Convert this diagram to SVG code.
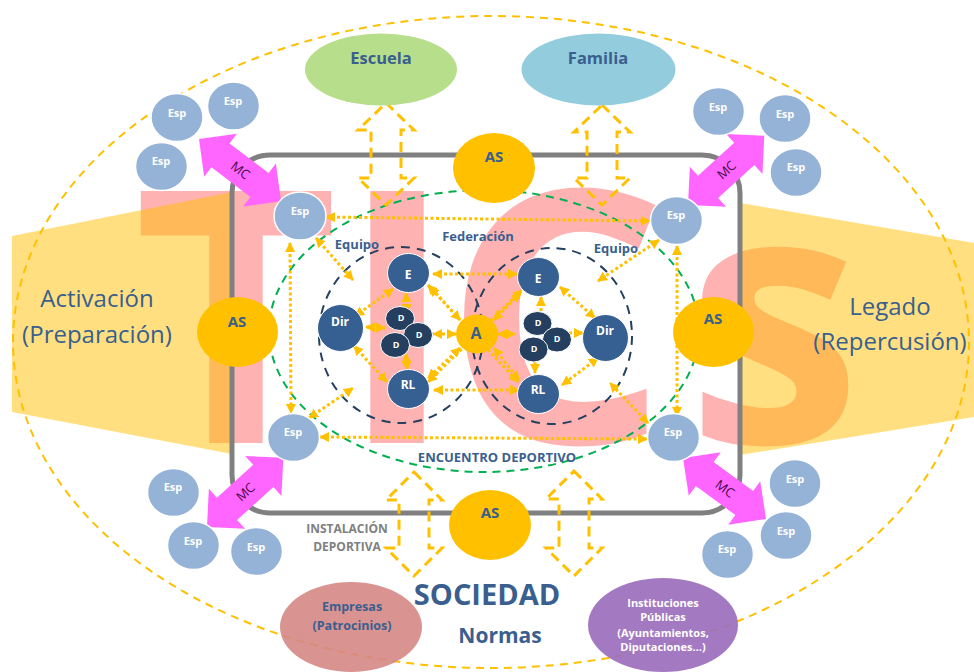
<svg xmlns="http://www.w3.org/2000/svg" width="974" height="672" viewBox="0 0 974 672">
<defs>
<style>
text{font-family:"Open Sans","Noto Sans","Liberation Sans",sans-serif;text-anchor:middle}
.big{font-size:353px;font-weight:bold;fill:#FF0000;fill-opacity:0.3}
.trap{fill:#FFC000;fill-opacity:0.5}
.esp{fill:#95B3D7;stroke:#FFFFFF;stroke-width:1.5}
.espt{fill:#FFFFFF;font-size:11px;font-weight:bold}
.as{fill:#FFC000}
.ast{fill:#3A5F8F;font-size:15px;font-weight:bold}
.tm{fill:#376092;stroke:#FFFFFF;stroke-width:1}
.tmt{fill:#FFFFFF;font-size:12px;font-weight:bold}
.d{fill:#243F60;stroke:#FFFFFF;stroke-width:1}
.dt{fill:#FFFFFF;font-size:9px;font-weight:bold}
.lbl{fill:#3A5F8F;font-weight:bold}
.c{stroke:#FFC000;stroke-width:3;stroke-dasharray:3 2.5;fill:none;marker-start:url(#ah);marker-end:url(#ah)}
.c1{stroke:#FFC000;stroke-width:3;stroke-dasharray:3 2.5;fill:none;marker-end:url(#ah)}
.blk{fill:none;stroke:#FFC000;stroke-width:3;stroke-dasharray:10 6}
.mc{fill:#FF66FF}
.mct{fill:#4B0A4B;font-size:13px}
</style>
<marker id="ah" viewBox="0 0 10 10" refX="9" refY="5" markerWidth="10" markerHeight="10" markerUnits="userSpaceOnUse" orient="auto-start-reverse"><path d="M0,0L10,5L0,10z" fill="#FFC000"/></marker>
<polygon id="mca" points="0,0 27,-27 27,-15 76,-15 76,-27 103,0 76,27 76,15 27,15 27,27"/>
</defs>
<rect width="974" height="672" fill="#FFFFFF"/>

<g id="tics">
<text class="big" x="236" y="443">T</text>
<text class="big" x="397" y="443">I</text>
<text class="big" x="556" y="443">C</text>
<text class="big" x="774" y="443">s</text>
</g>

<g id="phases">
<polygon class="trap" points="12,236 232,192 232,454 12,412"/>
<polygon class="trap" points="740,203 974,243 974,417 740,455"/>
<text x="97" y="307" fill="#3A5F8F" font-size="24">Activación</text>
<text x="97" y="343" fill="#3A5F8F" font-size="24">(Preparación)</text>
<text x="890" y="315" fill="#3A5F8F" font-size="24">Legado</text>
<text x="890" y="350" fill="#3A5F8F" font-size="24">(Repercusión)</text>
</g>

<g id="sociedad-boundary">
<ellipse cx="491" cy="342" rx="478" ry="326" fill="none" stroke="#FFC000" stroke-width="2" stroke-dasharray="8 6"/>
</g>

<g id="instalacion">
<rect x="232" y="155" width="508" height="358" rx="38" fill="none" stroke="#808080" stroke-width="5"/>
<text x="347" y="533" fill="#808080" font-size="12" font-weight="bold">INSTALACIÓN</text>
<text x="347" y="551" fill="#808080" font-size="12" font-weight="bold">DEPORTIVA</text>
</g>

<g id="encuentro">
<ellipse cx="484" cy="331" rx="215" ry="141" fill="none" stroke="#00B050" stroke-width="2" stroke-dasharray="8 6"/>
<text class="lbl" x="497" y="462" font-size="13">ENCUENTRO DEPORTIVO</text>
<text class="lbl" x="478" y="241" font-size="13">Federación</text>
</g>

<g id="equipo-left">
<ellipse cx="401" cy="335" rx="82" ry="88" fill="none" stroke="#243F60" stroke-width="2" stroke-dasharray="9 7"/>
<text class="lbl" x="357" y="249" font-size="13">Equipo</text>
</g>
<g id="equipo-right">
<ellipse cx="552" cy="336" rx="80" ry="88" fill="none" stroke="#243F60" stroke-width="2" stroke-dasharray="9 7"/>
<text class="lbl" x="616" y="253" font-size="13">Equipo</text>
</g>

<g id="block-arrows">
<polygon class="blk" points="386,103 414,130 401,130 401,178 414,178 386,205 358,178 371,178 371,130 358,130"/>
<polygon class="blk" points="602,105 630,132 617,132 617,178 630,178 602,205 574,178 587,178 587,132 574,132"/>
<polygon class="blk" points="414,472 442,500 429,500 429,548 442,548 414,576 386,548 399,548 399,500 386,500"/>
<polygon class="blk" points="574,471 602,499 589,499 589,548 602,548 574,576 546,548 559,548 559,499 546,499"/>
</g>

<g id="mc-arrows">
<g transform="translate(199,139) rotate(37.2)"><use href="#mca" class="mc"/><text class="mct" x="52" y="4.5">MC</text></g>
<g transform="translate(688,205) rotate(-42.2)"><use href="#mca" class="mc"/><text class="mct" x="52" y="4.5">MC</text></g>
<g transform="translate(207,527) rotate(-42.2)"><use href="#mca" class="mc"/><text class="mct" x="52" y="4.5">MC</text></g>
<g transform="translate(683,458) rotate(36.3)"><use href="#mca" class="mc"/><text class="mct" x="52" y="4.5">MC</text></g>
</g>

<g id="connectors">
<line class="c" x1="326" y1="217" x2="650" y2="221"/>
<line class="c" x1="320" y1="437" x2="647" y2="439"/>
<line class="c" x1="290" y1="243" x2="291" y2="413"/>
<line class="c" x1="677" y1="246" x2="677" y2="416"/>
<line class="c" x1="316" y1="238" x2="353" y2="280"/>
<line class="c" x1="309" y1="418" x2="353" y2="388"/>
<line class="c" x1="659" y1="240" x2="598" y2="281"/>
<line class="c" x1="648" y1="423" x2="610" y2="383"/>
<line class="c" x1="393" y1="289" x2="355" y2="316"/>
<line class="c" x1="354" y1="346" x2="387" y2="382"/>
<line class="c" x1="366" y1="327" x2="385" y2="328"/>
<line class="c" x1="406" y1="293" x2="407" y2="313"/>
<line class="c" x1="406" y1="354" x2="407" y2="370"/>
<line class="c" x1="433" y1="274" x2="517" y2="274"/>
<line class="c" x1="434" y1="390" x2="519" y2="390"/>
<line class="c" x1="460" y1="320" x2="430" y2="287"/>
<line class="c" x1="456" y1="334" x2="433" y2="334"/>
<line class="c" x1="460" y1="348" x2="428" y2="378"/>
<line class="c" x1="494" y1="320" x2="520" y2="293"/>
<line class="c" x1="498" y1="334" x2="515" y2="334"/>
<line class="c" x1="494" y1="348" x2="519" y2="380"/>
<line class="c" x1="428" y1="285" x2="518" y2="382"/>
<line class="c" x1="428" y1="382" x2="522" y2="290"/>
<line class="c" x1="560" y1="287" x2="595" y2="318"/>
<line class="c" x1="598" y1="358" x2="562" y2="385"/>
<line class="c1" x1="569" y1="333" x2="583" y2="333"/>
<line class="c1" x1="541" y1="311" x2="541" y2="297"/>
<line class="c1" x1="535" y1="361" x2="535" y2="373"/>
</g>

<g id="escuela"><ellipse cx="381" cy="69.5" rx="76" ry="36" fill="#B7DE8A"/><text class="lbl" x="381" y="64" font-size="16.5">Escuela</text></g>
<g id="familia"><ellipse cx="598.5" cy="69.5" rx="77" ry="36" fill="#93CDDD"/><text class="lbl" x="598" y="64" font-size="16.5">Familia</text></g>

<g id="as-top"><ellipse class="as" cx="494" cy="168" rx="41" ry="35"/><text class="ast" x="494" y="162">AS</text></g>
<g id="as-left"><ellipse class="as" cx="237.5" cy="332" rx="40.5" ry="35"/><text class="ast" x="237" y="327">AS</text></g>
<g id="as-right"><ellipse class="as" cx="713.5" cy="332" rx="40.5" ry="35"/><text class="ast" x="713" y="324">AS</text></g>
<g id="as-bottom"><ellipse class="as" cx="490" cy="525" rx="41" ry="35"/><text class="ast" x="490" y="518">AS</text></g>

<g id="esp-tl1"><ellipse class="esp" cx="177" cy="117.5" rx="26" ry="24"/><text class="espt" x="177" y="117">Esp</text></g>
<g id="esp-tl2"><ellipse class="esp" cx="233.5" cy="106" rx="26" ry="24"/><text class="espt" x="233" y="105">Esp</text></g>
<g id="esp-tl3"><ellipse class="esp" cx="161.5" cy="166.5" rx="26" ry="24"/><text class="espt" x="161" y="165">Esp</text></g>
<g id="esp-tl"><ellipse class="esp" cx="300" cy="216" rx="26" ry="24"/><text class="espt" x="300" y="215">Esp</text></g>
<g id="esp-tr1"><ellipse class="esp" cx="718.5" cy="111.5" rx="26" ry="24"/><text class="espt" x="718" y="111">Esp</text></g>
<g id="esp-tr2"><ellipse class="esp" cx="785" cy="118.5" rx="26" ry="24"/><text class="espt" x="785" y="118">Esp</text></g>
<g id="esp-tr3"><ellipse class="esp" cx="796" cy="172.5" rx="26" ry="24"/><text class="espt" x="796" y="171">Esp</text></g>
<g id="esp-tr"><ellipse class="esp" cx="676.5" cy="220.5" rx="26" ry="24"/><text class="espt" x="676" y="219">Esp</text></g>
<g id="esp-bl"><ellipse class="esp" cx="293.5" cy="437.5" rx="26" ry="24"/><text class="espt" x="293" y="436">Esp</text></g>
<g id="esp-bl1"><ellipse class="esp" cx="173.5" cy="492.5" rx="26" ry="24"/><text class="espt" x="173" y="491">Esp</text></g>
<g id="esp-bl2"><ellipse class="esp" cx="193.5" cy="545.5" rx="26" ry="24"/><text class="espt" x="193" y="545">Esp</text></g>
<g id="esp-bl3"><ellipse class="esp" cx="256.5" cy="551.5" rx="26" ry="24"/><text class="espt" x="256" y="551">Esp</text></g>
<g id="esp-br"><ellipse class="esp" cx="673.5" cy="437.5" rx="26" ry="24"/><text class="espt" x="673" y="436">Esp</text></g>
<g id="esp-br1"><ellipse class="esp" cx="795" cy="483.5" rx="26" ry="24"/><text class="espt" x="795" y="483">Esp</text></g>
<g id="esp-br2"><ellipse class="esp" cx="786" cy="535.5" rx="26" ry="24"/><text class="espt" x="786" y="535">Esp</text></g>
<g id="esp-br3"><ellipse class="esp" cx="727.5" cy="554.5" rx="26" ry="24"/><text class="espt" x="727" y="553">Esp</text></g>

<g id="e-left"><ellipse class="tm" cx="408.5" cy="273" rx="21" ry="19.5"/><text class="tmt" x="408" y="279" font-size="15">E</text></g>
<g id="dir-left"><ellipse class="tm" cx="340.5" cy="328" rx="23" ry="23.5"/><text class="tmt" x="340" y="326">Dir</text></g>
<g id="rl-left"><ellipse class="tm" cx="408.5" cy="389" rx="21" ry="19.5"/><text class="tmt" x="408" y="389">RL</text></g>
<g id="d-left"><ellipse class="d" cx="400" cy="318.5" rx="14.5" ry="12"/><ellipse class="d" cx="418" cy="335" rx="14.5" ry="12.5"/><ellipse class="d" cx="395" cy="345" rx="14.5" ry="12.5"/>
<text class="dt" x="401" y="321">D</text><text class="dt" x="419" y="338">D</text><text class="dt" x="396" y="348">D</text></g>

<g id="e-right"><ellipse class="tm" cx="538.5" cy="277" rx="21" ry="19.5"/><text class="tmt" x="538" y="283" font-size="15">E</text></g>
<g id="dir-right"><ellipse class="tm" cx="605.5" cy="338" rx="23" ry="23.5"/><text class="tmt" x="605" y="335">Dir</text></g>
<g id="rl-right"><ellipse class="tm" cx="538.5" cy="394" rx="21" ry="19.5"/><text class="tmt" x="538" y="394">RL</text></g>
<g id="d-right"><ellipse class="d" cx="537.5" cy="323.5" rx="14.5" ry="12"/><ellipse class="d" cx="557" cy="339.5" rx="14.5" ry="12.5"/><ellipse class="d" cx="533.5" cy="349.5" rx="14.5" ry="12.5"/>
<text class="dt" x="538" y="326">D</text><text class="dt" x="557" y="342">D</text><text class="dt" x="534" y="352">D</text></g>

<g id="arbitro"><ellipse class="as" cx="477" cy="334" rx="21" ry="19.5"/><text class="lbl" x="476" y="339" font-size="16">A</text></g>

<g id="empresas"><ellipse cx="351" cy="627" rx="71" ry="45" fill="#D58784" fill-opacity="0.9"/><text class="lbl" x="352" y="611" font-size="12.5">Empresas</text><text class="lbl" x="352" y="630" font-size="12.5">(Patrocinios)</text></g>
<g id="instituciones"><ellipse cx="663" cy="625" rx="75" ry="47" fill="#9B6FBD" fill-opacity="0.92"/>
<text x="663" y="607" fill="#FFFFFF" font-size="11" font-weight="bold">Instituciones</text>
<text x="663" y="621" fill="#FFFFFF" font-size="11" font-weight="bold">Públicas</text>
<text x="663" y="637" fill="#FFFFFF" font-size="11" font-weight="bold">(Ayuntamientos,</text>
<text x="663" y="651" fill="#FFFFFF" font-size="11" font-weight="bold">Diputaciones…)</text></g>

<g id="sociedad"><text class="lbl" x="487" y="605" font-size="29">SOCIEDAD</text><text class="lbl" x="500" y="643" font-size="21">Normas</text></g>
</svg>
